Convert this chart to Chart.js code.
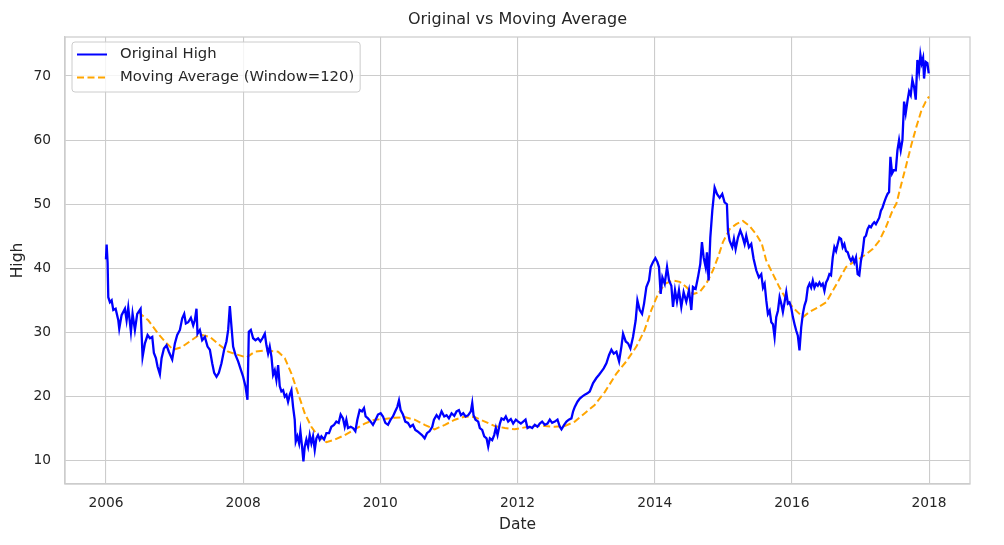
<!DOCTYPE html>
<html>
<head>
<meta charset="utf-8">
<script src="https://cdn.jsdelivr.net/npm/chart.js@4.4.1/dist/chart.umd.min.js"></script>
<style>
  html, body { margin: 0; padding: 0; background: #ffffff; }
  #wrap { width: 1004px; height: 545px; }
</style>
</head>
<body>
<div id="wrap"><canvas id="ma-chart"></canvas></div>
<script>
// dates as decimal years
const highYears = [
  2006.000, 2006.010, 2006.024, 2006.034, 2006.058, 2006.083, 2006.107, 2006.141, 2006.180, 2006.194,
  2006.228, 2006.277, 2006.301, 2006.325, 2006.364, 2006.388, 2006.422, 2006.456, 2006.505, 2006.534,
  2006.568, 2006.607, 2006.641, 2006.675, 2006.699, 2006.728, 2006.752, 2006.786, 2006.811, 2006.845,
  2006.883, 2006.917, 2006.966, 2007.005, 2007.039, 2007.078, 2007.112, 2007.141, 2007.165, 2007.199,
  2007.238, 2007.272, 2007.296, 2007.320, 2007.335, 2007.369, 2007.403, 2007.442, 2007.481, 2007.515,
  2007.549, 2007.578, 2007.612, 2007.646, 2007.684, 2007.723, 2007.757, 2007.782, 2007.806, 2007.830,
  2007.854, 2007.888, 2007.927, 2007.966, 2008.000, 2008.034, 2008.063, 2008.083, 2008.112, 2008.146,
  2008.180, 2008.218, 2008.252, 2008.282, 2008.316, 2008.340, 2008.364, 2008.388, 2008.413, 2008.437,
  2008.461, 2008.485, 2008.510, 2008.534, 2008.558, 2008.583, 2008.607, 2008.631, 2008.655, 2008.680,
  2008.704, 2008.728, 2008.752, 2008.767, 2008.791, 2008.816, 2008.835, 2008.859, 2008.879, 2008.898,
  2008.922, 2008.947, 2008.971, 2008.995, 2009.019, 2009.044, 2009.068, 2009.092, 2009.117, 2009.141,
  2009.180, 2009.214, 2009.252, 2009.286, 2009.325, 2009.359, 2009.393, 2009.422, 2009.456, 2009.481,
  2009.505, 2009.529, 2009.568, 2009.602, 2009.636, 2009.665, 2009.699, 2009.733, 2009.762, 2009.786,
  2009.820, 2009.859, 2009.893, 2009.932, 2009.966, 2010.005, 2010.039, 2010.073, 2010.112, 2010.150,
  2010.184, 2010.218, 2010.248, 2010.272, 2010.296, 2010.330, 2010.364, 2010.403, 2010.437, 2010.476,
  2010.510, 2010.539, 2010.573, 2010.607, 2010.646, 2010.680, 2010.718, 2010.757, 2010.782, 2010.820,
  2010.854, 2010.893, 2010.932, 2010.966, 2011.000, 2011.039, 2011.078, 2011.112, 2011.146, 2011.175,
  2011.209, 2011.243, 2011.282, 2011.320, 2011.340, 2011.359, 2011.388, 2011.427, 2011.451, 2011.485,
  2011.515, 2011.549, 2011.573, 2011.597, 2011.631, 2011.660, 2011.684, 2011.709, 2011.743, 2011.767,
  2011.801, 2011.830, 2011.864, 2011.903, 2011.937, 2011.976, 2012.010, 2012.049, 2012.083, 2012.117,
  2012.146, 2012.180, 2012.214, 2012.252, 2012.291, 2012.325, 2012.359, 2012.398, 2012.437, 2012.471,
  2012.505, 2012.544, 2012.583, 2012.617, 2012.641, 2012.680, 2012.714, 2012.748, 2012.786, 2012.811,
  2012.835, 2012.874, 2012.908, 2012.942, 2012.981, 2013.019, 2013.053, 2013.102, 2013.150, 2013.189,
  2013.223, 2013.257, 2013.296, 2013.335, 2013.369, 2013.403, 2013.442, 2013.481, 2013.515, 2013.539,
  2013.578, 2013.612, 2013.646, 2013.684, 2013.723, 2013.748, 2013.782, 2013.816, 2013.845, 2013.879,
  2013.917, 2013.942, 2013.976, 2014.010, 2014.039, 2014.063, 2014.087, 2014.112, 2014.146, 2014.180,
  2014.209, 2014.243, 2014.267, 2014.296, 2014.325, 2014.354, 2014.388, 2014.422, 2014.461, 2014.500,
  2014.534, 2014.558, 2014.597, 2014.631, 2014.665, 2014.689, 2014.714, 2014.743, 2014.762, 2014.786,
  2014.811, 2014.840, 2014.874, 2014.908, 2014.947, 2014.985, 2015.019, 2015.053, 2015.068, 2015.092,
  2015.131, 2015.155, 2015.180, 2015.214, 2015.248, 2015.277, 2015.311, 2015.335, 2015.374, 2015.408,
  2015.442, 2015.481, 2015.519, 2015.554, 2015.579, 2015.603, 2015.627, 2015.651, 2015.676, 2015.700,
  2015.724, 2015.748, 2015.772, 2015.797, 2015.821, 2015.845, 2015.869, 2015.893, 2015.918, 2015.942,
  2015.966, 2015.990, 2016.015, 2016.039, 2016.063, 2016.087, 2016.111, 2016.136, 2016.160, 2016.184,
  2016.208, 2016.232, 2016.257, 2016.281, 2016.305, 2016.329, 2016.354, 2016.378, 2016.402, 2016.426,
  2016.450, 2016.475, 2016.499, 2016.523, 2016.547, 2016.571, 2016.596, 2016.620, 2016.644, 2016.668,
  2016.692, 2016.717, 2016.741, 2016.765, 2016.789, 2016.814, 2016.838, 2016.862, 2016.886, 2016.910,
  2016.935, 2016.959, 2016.983, 2017.007, 2017.031, 2017.056, 2017.080, 2017.104, 2017.128, 2017.153,
  2017.177, 2017.201, 2017.225, 2017.249, 2017.274, 2017.298, 2017.322, 2017.346, 2017.370, 2017.395,
  2017.417, 2017.437, 2017.461, 2017.485, 2017.515, 2017.539, 2017.563, 2017.587, 2017.612, 2017.636,
  2017.660, 2017.684, 2017.709, 2017.733, 2017.757, 2017.782, 2017.806, 2017.830, 2017.854, 2017.874,
  2017.893, 2017.913, 2017.927, 2017.951, 2017.976, 2017.995
]
const highValues = [
  41.4, 43.7, 40.9, 35.5, 34.7, 35.0, 33.5, 33.7, 31.9, 30.6,
  32.7, 33.7, 31.9, 33.9, 30.1, 32.9, 30.4, 32.9, 33.7, 26.2,
  28.3, 29.6, 29.1, 29.3, 26.8, 26.0, 24.7, 23.5, 26.0, 27.5,
  28.0, 27.0, 25.8, 28.3, 29.6, 30.4, 32.2, 32.9, 31.4, 31.6,
  32.3, 31.1, 31.9, 33.7, 29.8, 30.4, 28.8, 29.3, 27.8, 27.3,
  25.2, 23.7, 23.1, 23.7, 25.2, 27.3, 28.6, 30.4, 34.1, 30.9,
  27.8, 26.5, 25.5, 24.2, 23.1, 21.6, 19.5, 30.1, 30.4, 29.1,
  28.8, 29.1, 28.6, 29.1, 29.8, 28.0, 26.7, 27.8, 26.2, 23.4,
  24.1, 22.6, 24.9, 21.6, 20.8, 21.0, 20.0, 20.3, 19.2, 20.3,
  21.0, 18.4, 16.4, 13.0, 13.8, 12.7, 14.6, 12.2, 9.9, 12.2,
  13.3, 12.2, 14.0, 12.7, 13.8, 11.7, 13.5, 14.0, 13.3, 13.8,
  13.3, 14.3, 14.3, 15.3, 15.6, 16.1, 15.9, 17.2, 16.6, 15.3,
  16.4, 15.1, 15.3, 15.1, 14.6, 16.4, 17.9, 17.7, 18.2, 16.9,
  16.6, 16.1, 15.6, 16.4, 17.2, 17.4, 16.9, 15.9, 15.6, 16.4,
  16.9, 17.7, 18.4, 19.4, 17.9, 17.2, 16.1, 15.9, 15.3, 15.6,
  14.8, 14.6, 14.3, 14.0, 13.5, 14.3, 14.6, 15.3, 16.4, 17.1,
  16.6, 17.7, 16.9, 17.1, 16.6, 17.4, 17.0, 17.7, 17.9, 17.1,
  17.4, 16.9, 17.1, 17.7, 19.0, 17.1, 16.4, 16.1, 15.1, 14.8,
  13.8, 13.5, 12.2, 13.5, 13.2, 14.0, 15.1, 14.0, 15.8, 16.6,
  16.4, 16.9, 16.1, 16.5, 15.8, 16.4, 16.1, 15.8, 16.1, 16.4,
  15.1, 15.3, 15.1, 15.6, 15.3, 15.8, 16.1, 15.6, 15.8, 16.4,
  15.9, 16.1, 16.4, 15.3, 14.9, 15.6, 16.1, 16.4, 16.6, 17.7,
  18.4, 19.2, 19.7, 20.0, 20.3, 20.5, 20.8, 22.1, 22.9, 23.4,
  23.9, 24.4, 25.2, 26.5, 27.3, 26.7, 27.0, 25.5, 27.8, 29.8,
  28.6, 28.3, 27.5, 29.3, 31.9, 35.0, 33.5, 32.9, 34.5, 37.1,
  38.1, 40.2, 41.0, 41.6, 41.0, 40.2, 36.0, 38.6, 37.6, 40.2,
  38.1, 37.3, 34.0, 36.6, 34.8, 36.6, 34.0, 36.3, 34.8, 36.6,
  33.5, 37.1, 36.8, 38.6, 40.7, 44.1, 41.7, 40.2, 42.5, 38.1,
  44.8, 49.0, 52.6, 51.6, 51.0, 51.6, 50.3, 50.0, 45.9, 44.3,
  43.3, 44.6, 43.0, 44.8, 45.9, 45.1, 43.8, 45.1, 43.3, 43.8,
  41.5, 39.7, 38.6, 39.1, 37.0, 37.6, 35.0, 32.9, 33.4, 31.6,
  31.3, 29.3, 32.4, 33.4, 35.5, 34.5, 33.2, 34.7, 36.3, 34.5,
  34.7, 33.9, 32.4, 31.3, 30.3, 29.5, 27.2, 30.8, 32.9, 34.2,
  35.0, 37.0, 37.6, 37.0, 38.1, 37.0, 37.6, 37.3, 37.8, 37.3,
  37.6, 36.5, 37.8, 38.3, 39.1, 38.9, 41.7, 43.3, 42.7, 43.8,
  44.8, 44.6, 43.3, 43.8, 42.7, 42.5, 41.7, 41.2, 41.7, 40.9,
  41.7, 39.1, 38.9, 41.2, 42.5, 44.8, 45.1, 46.1, 46.6, 46.4,
  46.9, 47.2, 46.9, 47.4, 47.9, 49.0, 49.5, 50.3, 51.0, 51.6,
  51.9, 57.4, 54.8, 55.3, 55.3, 58.4, 60.0, 58.4, 60.0, 66.0,
  64.2, 66.0, 67.6, 67.0, 69.4, 68.3, 66.3, 72.5, 70.7, 73.3,
  72.0, 72.8, 69.6, 72.2, 72.0, 70.4
]

const maYears = [
  2006.471, 2006.617, 2006.762, 2006.859, 2006.981, 2007.102, 2007.248, 2007.369, 2007.515, 2007.660,
  2007.782, 2007.927, 2008.049, 2008.170, 2008.316, 2008.510, 2008.607, 2008.704, 2008.801, 2008.898,
  2008.995, 2009.092, 2009.214, 2009.335, 2009.481, 2009.626, 2009.772, 2009.917, 2010.063, 2010.209,
  2010.354, 2010.500, 2010.646, 2010.791, 2010.942, 2011.087, 2011.233, 2011.379, 2011.524, 2011.670,
  2011.816, 2011.961, 2012.107, 2012.252, 2012.398, 2012.544, 2012.689, 2012.835, 2012.981, 2013.126,
  2013.272, 2013.442, 2013.587, 2013.733, 2013.854, 2013.951, 2014.049, 2014.146, 2014.267, 2014.364,
  2014.461, 2014.558, 2014.655, 2014.752, 2014.850, 2014.922, 2014.995, 2015.092, 2015.189, 2015.286,
  2015.383, 2015.481, 2015.560, 2015.627, 2015.724, 2015.821, 2015.918, 2016.015, 2016.111, 2016.160,
  2016.257, 2016.378, 2016.499, 2016.596, 2016.692, 2016.789, 2016.886, 2016.983, 2017.080, 2017.177,
  2017.274, 2017.370, 2017.467, 2017.524, 2017.597, 2017.670, 2017.743, 2017.816, 2017.888, 2017.951,
  2018.000
]
const maValues = [
  33.2, 31.9, 29.8, 28.6, 27.3, 27.7, 28.8, 29.7, 29.3, 28.0,
  27.0, 26.5, 26.1, 27.0, 27.2, 27.0, 26.0, 23.6, 20.5, 17.4,
  15.3, 13.8, 12.9, 13.3, 14.0, 14.9, 15.8, 16.4, 16.5, 16.7,
  16.8, 16.4, 15.6, 14.9, 15.6, 16.4, 16.9, 16.8, 16.1, 15.4,
  15.1, 14.9, 15.2, 15.4, 15.4, 15.3, 15.4, 16.1, 17.4, 18.7,
  20.7, 23.6, 25.5, 27.8, 30.4, 33.5, 36.0, 37.6, 38.1, 37.9,
  37.1, 36.0, 36.3, 37.6, 39.7, 41.7, 44.1, 46.1, 46.9, 47.4,
  46.6, 45.3, 43.9, 41.2, 39.1, 37.0, 35.2, 33.9, 32.9, 32.4,
  33.2, 33.9, 34.7, 36.5, 38.3, 40.2, 40.9, 41.5, 42.2, 43.0,
  44.3, 46.4, 49.0, 50.1, 53.2, 56.2, 59.3, 62.1, 64.6, 66.0,
  66.8
]

const xTickYears = [2006, 2008, 2010, 2012, 2014, 2016, 2018]
const yTickValues = [10, 20, 30, 40, 50, 60, 70]

const textColor = '#262626'
const gridColor = '#cccccc'
const fontFamily = '"DejaVu Sans", sans-serif'

function points(xs, ys) {
  return xs.map((x, i) => ({ x, y: ys[i] }))
}

// top and right spines, seaborn draws all four
const axesFrame = {
  id: 'axesFrame',
  afterDatasetsDraw(chart) {
    const { ctx, chartArea: a } = chart
    ctx.save()
    ctx.strokeStyle = gridColor
    ctx.lineWidth = 1.25
    ctx.strokeRect(a.left, a.top, a.right - a.left, a.bottom - a.top)
    ctx.restore()
  }
}

// matplotlib style legend sitting inside the plot, upper left
const insideLegend = {
  id: 'insideLegend',
  afterDraw(chart) {
    const { ctx, chartArea: a } = chart
    const x0 = a.left + 7
    const y0 = a.top + 5
    ctx.save()
    ctx.font = '14.8px ' + fontFamily
    const labels = chart.data.datasets.map(ds => ds.label)
    const textW = Math.max(...labels.map(l => ctx.measureText(l).width))
    const w = 48 + textW + 6
    const h = 50

    ctx.beginPath()
    ctx.roundRect(x0, y0, w, h, 3)
    ctx.fillStyle = 'rgba(255,255,255,0.8)'
    ctx.fill()
    ctx.strokeStyle = gridColor
    ctx.lineWidth = 1
    ctx.stroke()

    chart.data.datasets.forEach((ds, i) => {
      const y = y0 + 12.5 + i * 23
      ctx.beginPath()
      ctx.setLineDash(ds.borderDash || [])
      ctx.strokeStyle = ds.borderColor
      ctx.lineWidth = 2
      ctx.moveTo(x0 + 5, y)
      ctx.lineTo(x0 + 35, y)
      ctx.stroke()
      ctx.setLineDash([])
      ctx.fillStyle = textColor
      ctx.textBaseline = 'middle'
      ctx.textAlign = 'left'
      ctx.fillText(ds.label, x0 + 48, y)
    })
    ctx.restore()
  }
}

function movingAverageChart() {
  const ctx = document.getElementById('ma-chart')

  const config = {
    type: 'line',
    data: {
      datasets: [
        {
          label: 'Original High',
          data: points(highYears, highValues),
          borderColor: '#0000ff',
          backgroundColor: '#0000ff',
          borderWidth: 2.3,
          pointRadius: 0,
        },
        {
          label: 'Moving Average (Window=120)',
          data: points(maYears, maValues),
          borderColor: '#ffa500',
          backgroundColor: '#ffa500',
          borderWidth: 2,
          borderDash: [7, 3.5],
          pointRadius: 0,
        },
      ]
    },
    options: {
      responsive: true,
      maintainAspectRatio: false,
      animation: false,
      layout: { padding: { left: 0, right: 34, top: 0, bottom: 0 } },
      plugins: {
        legend: { display: false },
        tooltip: { enabled: false },
        title: {
          display: true,
          fullSize: false,
          text: 'Original vs Moving Average',
          color: textColor,
          font: { family: fontFamily, size: 16, weight: 'normal' },
          padding: { top: 10, bottom: 7.8 },
        },
      },
      scales: {
        x: {
          type: 'linear',
          min: 2005.403,
          max: 2018.597,
          afterBuildTicks: scale => { scale.ticks = xTickYears.map(v => ({ value: v })) },
          afterFit: scale => { scale.height = 61 },
          ticks: {
            color: textColor,
            font: { family: fontFamily, size: 13.8 },
            padding: 11.6,
            maxRotation: 0,
            callback: v => String(v),
          },
          grid: { color: gridColor, lineWidth: 1.1, drawTicks: false },
          border: { color: gridColor, width: 1.25 },
          title: {
            display: true,
            text: 'Date',
            color: textColor,
            font: { family: fontFamily, size: 15.5 },
            padding: { top: 0, bottom: 10.7 },
          },
        },
        y: {
          type: 'linear',
          min: 6.37,
          max: 76.08,
          afterBuildTicks: scale => { scale.ticks = yTickValues.map(v => ({ value: v })) },
          afterFit: scale => { scale.width = 65 },
          ticks: {
            color: textColor,
            font: { family: fontFamily, size: 13.8 },
            padding: 14,
            callback: v => String(v),
          },
          grid: { color: gridColor, lineWidth: 1.1, drawTicks: false },
          border: { color: gridColor, width: 1.25 },
          title: {
            display: true,
            text: 'High',
            color: textColor,
            font: { family: fontFamily, size: 15.5 },
            padding: { top: 8.7, bottom: 0 },
          },
        },
      },
    },
    plugins: [axesFrame, insideLegend],
  }

  new Chart(ctx, config)
}

movingAverageChart()
</script>
</body>
</html>
